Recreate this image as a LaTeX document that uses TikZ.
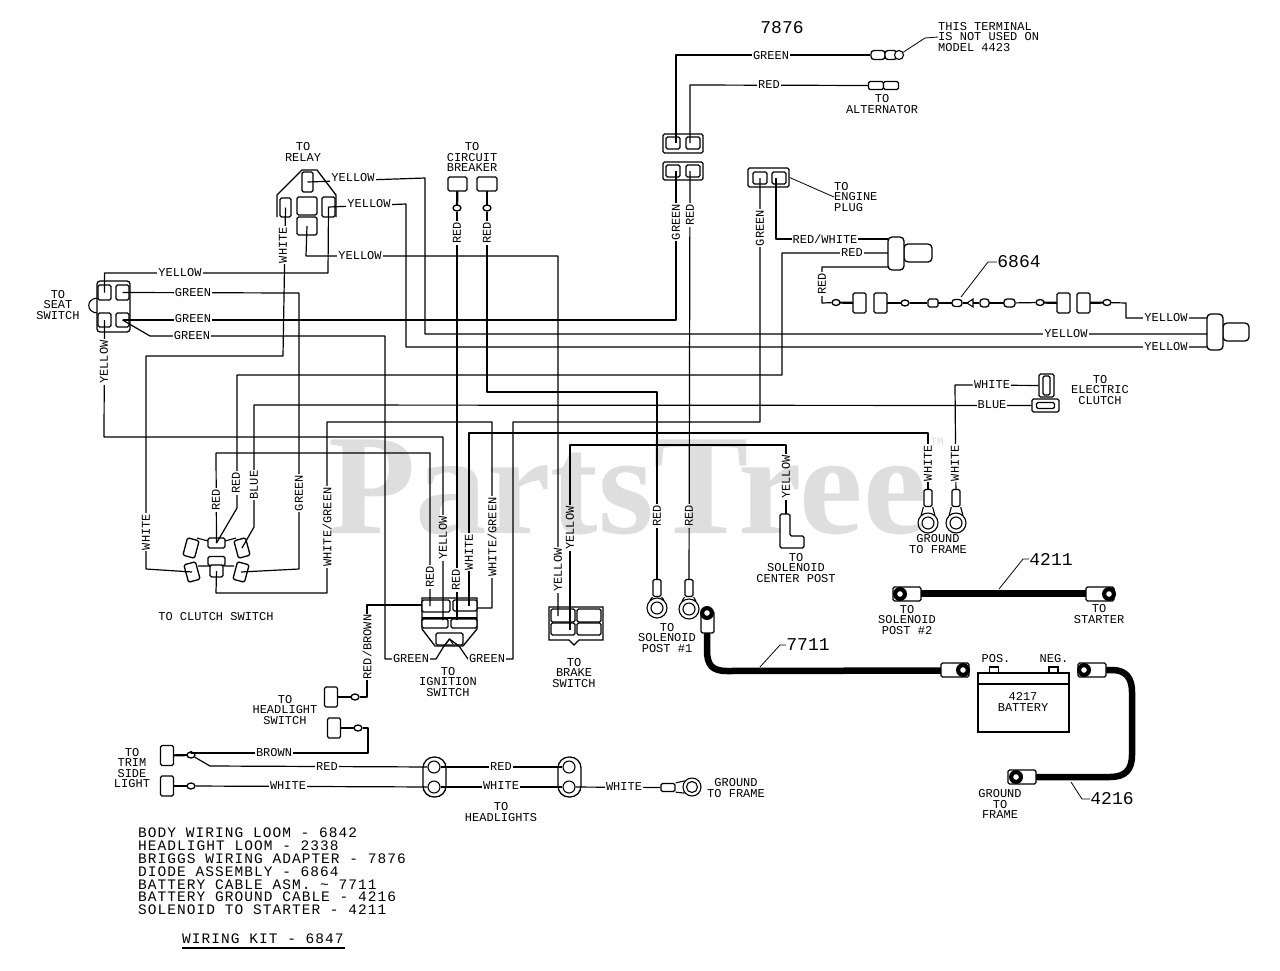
\documentclass[tikz,border=0pt]{standalone}
\usepackage{fontspec}
\setmainfont{Liberation Mono}
\newfontfamily\wmfont{Liberation Serif}
\newfontfamily\listfont[LetterSpace=7.2]{Liberation Mono}
\newcommand{\labelfont}{\fontsize{12}{10.3}\selectfont}
\tikzset{
  wire/.style={line width=1.2pt,color=black,line join=round},
  lead/.style={line width=0.8pt,color=black},
  cable/.style={line width=6.5pt,color=black,line join=round},
  stem/.style={line width=2.2pt,color=black},
  conbox/.style 2 args={draw,line width=1.3pt,fill=white,inner sep=0pt,rounded corners=1.5pt,minimum width=#1pt,minimum height=#2pt},
  knob/.style={draw,line width=1.3pt,fill=white,ellipse,inner sep=0pt,minimum width=8pt,minimum height=6pt},
  holecirc/.style={draw,line width=1.1pt,fill=white,circle,inner sep=0pt,minimum size=#1pt},
  wlab/.style={font=\labelfont,fill=white,inner sep=1pt},
  vlab/.style={font=\labelfont,fill=white,inner sep=1pt,rotate=90},
  txt/.style={font=\labelfont,align=center,inner sep=0pt},
  num/.style={font=\fontsize{18}{18}\selectfont,inner sep=0pt},
}
% blade plug: [block size], name, block x, block y, knob x, knob y
\newcommand{\bladeplug}[6][{13}{20}]{
  \draw[stem] (#3,#4) -- (#5,#6);
  \node[conbox=#1] (#2b) at (#3,#4) {};
  \node[knob] (#2k) at (#5,#6) {};
}
% ring terminal, vertical: name, x, barrel y, ring y
\newcommand{\ringterm}[4]{
  \node[conbox={8}{17}] (#1b) at (#2,#3) {};
  \node[holecirc=20] (#1r) at (#2,#4) {};
  \node[holecirc=12] (#1h) at (#2,#4) {};
  \draw[line width=1.1pt] (#1b.south west) -- (#1r.130) (#1b.south east) -- (#1r.50);
}
% battery lug: name, x, y, hole x
\newcommand{\batlug}[4]{
  \node[conbox={28}{14}] (#1) at (#2,#3) {};
  \fill[black] (#4,#3) circle (7);
  \node[holecirc=7] (#1h) at (#4,#3) {};
}
\usetikzlibrary{shapes.geometric}
\begin{document}
\begin{tikzpicture}[x=1pt,y=-1pt]
  \useasboundingbox (0,0) rectangle (1280,970);
  \fill[white] (0,0) rectangle (1280,970);

  % seat switch plug
  \draw[line width=1.1pt] (97,298) .. controls (86,299) and (86,312) .. (97,313);
  \node[conbox={33}{51},rounded corners=3pt] (seat) at (113.5,306.5) {};
  \node[conbox={13}{15}] (seatA) at (104.5,292.5) {};
  \node[conbox={13}{15}] (seatB) at (122.5,292.5) {};
  \node[conbox={13}{14}] (seatC) at (104.5,320) {};
  \node[conbox={13}{14}] (seatD) at (122.5,320) {};

  % relay plug
  \draw[line width=1.3pt] (277,217)--(277,195)--(302,170)--(317,170)--(336,195)--(336,217);
  \node[conbox={11}{20}] (relayT) at (307.5,182) {};
  \node[conbox={11}{19}] (relayL) at (285.5,207.5) {};
  \node[conbox={20}{18}] (relayM) at (307,206) {};
  \node[conbox={13}{20}] (relayR) at (328.5,207) {};
  \node[conbox={20}{18}] (relayB) at (307,226) {};

  % circuit breaker plugs
  \bladeplug[{19}{14}]{cbA}{457.5}{184}{457}{208}
  \bladeplug[{20}{14}]{cbB}{487}{184}{487}{208}

  % briggs adapter plugs
  \node[conbox={40}{19}] (brigT) at (683,143.5) {};
  \node[conbox={14}{12}] at (673,143) {};
  \node[conbox={14}{12}] at (693,143) {};
  \node[conbox={40}{18}] (brigB) at (683,171) {};
  \node[conbox={14}{12}] at (673,171) {};
  \node[conbox={14}{12}] at (693,171) {};
  \coordinate (brigTg) at (676,143);
  \coordinate (brigTr) at (690,143);
  \coordinate (brigBg) at (676,171);
  \coordinate (brigBr) at (690,171);

  % engine plug
  \node[conbox={41}{19}] (engine) at (768.5,177.5) {};
  \node[conbox={14}{12}] (engineA) at (760,178) {};
  \node[conbox={14}{12}] (engineB) at (779,178) {};
  \coordinate (engineBw) at (776,178);

  % terminals at the top
  \node[conbox={14}{9},rounded corners=3pt] (termG) at (878,55) {};
  \node[conbox={12}{9},rounded corners=3pt] (termGa) at (891,55) {};
  \node[holecirc=9,ellipse] (termGb) at (899,55) {};
  \node[conbox={15}{8}] (termR) at (876,85.5) {};
  \node[conbox={15}{8}] (termRa) at (891,85.5) {};

  % boots
  \node[conbox={28}{18},rounded corners=4pt] (bootAn) at (918,253) {};
  \node[conbox={16}{33},rounded corners=4pt] (bootA) at (896,253.5) {};
  \coordinate (bootAa) at (888,239);
  \coordinate (bootAb) at (888,253);
  \coordinate (bootAc) at (888,267);
  \node[conbox={26}{18},rounded corners=4pt] (bootBn) at (1236,332) {};
  \node[conbox={16}{36},rounded corners=4pt] (bootB) at (1215,332) {};
  \coordinate (bootBa) at (1207,318);
  \coordinate (bootBb) at (1207,334);
  \coordinate (bootBc) at (1207,347);

  % diode assembly
  \bladeplug{chA}{859.5}{303}{836}{302.5}
  \bladeplug{chB}{880.5}{303}{905}{303}
  \bladeplug{chC}{1063.5}{303}{1040}{302.5}
  \bladeplug{chD}{1083.5}{303}{1107}{302.5}
  \draw[stem] (933,303) -- (957,303);
  \draw[stem] (984,303) -- (1010,303);
  \node[conbox={10}{8}] (diodeA) at (933,303) {};
  \node[conbox={10}{7},rounded corners=3pt] (diodeB) at (957,303) {};
  \draw[line width=1.1pt,fill=white] (967,303)--(973,299)--(973,307)--cycle;
  \node[conbox={9}{8},rounded corners=3pt] (diodeC) at (984.5,303) {};
  \node[conbox={11}{8},rounded corners=3pt] (diodeD) at (1009.5,303) {};

  % electric clutch plug
  \node[conbox={15}{23}] (ecU) at (1046.5,385.5) {};
  \node[conbox={7}{19}] (ecUi) at (1046.5,385.5) {};
  \node[conbox={27}{13}] (ecL) at (1045.5,405.5) {};
  \node[conbox={18}{6}] (ecLi) at (1045.5,405.5) {};

  % ring terminals
  \ringterm{gndA}{928}{498}{523}
  \ringterm{gndB}{956}{498}{523}
  \ringterm{solA}{657}{588}{608}
  \ringterm{solB}{689}{588}{609}

  % solenoid center post
  \draw[line width=1.3pt,fill=white,rounded corners=1.5pt] (780,514)--(790,514)--(790,536)--(804,536)--(804,548)--(780,548)--cycle;
  \coordinate (postC) at (786,514);

  % brake switch plug
  \draw[line width=1.3pt,fill=white] (549,607)--(603,607)--(603,640)--(579,640)--(574,645)--(569,640)--(549,640)--cycle;
  \node[conbox={24}{13}] (brkA) at (563,615.5) {};
  \node[conbox={24}{13}] (brkB) at (589,615.5) {};
  \node[conbox={24}{12}] (brkC) at (563,629) {};
  \node[conbox={24}{12}] (brkD) at (589,629) {};
  \coordinate (brkAw) at (558,616);
  \coordinate (brkCw) at (570,630);

  % ignition plug
  \draw[line width=1.3pt,fill=white] (422,598)--(477,598)--(477,629)--(463,646)--(435,646)--(422,629)--cycle;
  \draw[line width=1.3pt] (422,618)--(477,618);
  \node[conbox={28}{12}] (ignA) at (436,606) {};
  \node[conbox={24}{11}] (ignB) at (465,605.5) {};
  \node[conbox={26}{9}] (ignC) at (435,623.5) {};
  \node[conbox={26}{9}] (ignD) at (464,623.5) {};
  \node[conbox={27}{12}] (ignK) at (449.5,639) {};
  \coordinate (ignAw) at (430,606);
  \coordinate (ignAl) at (422,605);
  \coordinate (ignCw) at (443,620);
  \coordinate (ignDw) at (456,620);
  \coordinate (ignBw) at (469,606);
  \coordinate (ignBr) at (477,608);

  % clutch switch plug
  \draw[line width=1.1pt] (197,538) -- (208,541) (225,541) -- (236,538) (198,566) -- (210,566) (224,566) -- (234,566);
  \node[conbox={17}{10}] (cluT) at (216.5,543) {};
  \node[conbox={17}{9}] (cluB) at (216.5,561) {};
  \node[conbox={13}{12}] (cluS) at (216.5,571) {};
  \node[conbox={12}{18},rotate=-15] (cluA) at (191,548) {};
  \node[conbox={12}{18},rotate=15] (cluC) at (192,572) {};
  \node[conbox={12}{18},rotate=15] (cluD) at (242,548) {};
  \node[conbox={12}{18},rotate=-15] (cluE) at (241,572) {};

  % headlight switch plugs and trim side light plugs
  \bladeplug{hlA}{331}{697}{355}{697}
  \bladeplug{hlB}{334}{728}{358}{728}
  \bladeplug{trA}{167}{755.5}{191}{755}
  \bladeplug{trB}{167}{786}{191}{786}

  % the wires
  \draw[wire] (seatA.center) |- (328,273) -- (relayR.center);
  \draw[wire] (seatB.center) -- (299,293) -- (299,569) -- (cluE.center);
  \draw[wire] (seatD.center) -- (676,320) -- (brigBg);
  \draw[wire] (seatD.center) -- (150,336) -- (385,336) -- (385,659) -- (436,659) -- (444,646) -- (ignK.center);
  \draw[wire] (seatC.center) -- (104,437) -- (443,437) -- (ignCw);
  \draw[wire] (relayL.center) -- (283,356) -- (146,356) -- (146,569) -- (cluC.center);
  \draw[wire] (relayT.center) -- (425,178) -- (425,334) -- (bootBb);
  \draw[wire] (relayR.center) -- (406,204) -- (406,347) -- (bootBc);
  \draw[wire] (relayB.center) -- (306,256) -- (558,256) -- (brkAw);
  \draw[wire] (cbAk) -- (457,620);
  \draw[wire] (cbBk) -- (487,392) -- (657,392) -- (solAb);
  \draw[wire] (brigTg) -- (676,55) -- (termG);
  \draw[wire] (brigTr) -- (690,85) -- (termR);
  \draw[wire] (brigBr) -- (solBb);
  \draw[wire] (engineA.center) -- (760,422) -- (513,422) -- (513,659) -- (468,659) -- (459,646) -- (ignK.center);
  \draw[wire] (engineBw) -- (776,239) -- (bootAa);
  \draw[wire] (bootAb) -- (782,253) -- (782,375) -- (237,375) -- (237,508) -- (cluT.center);
  \draw[wire] (bootAc) -- (822,267) -- (822,303) -- (chAk);
  \draw[wire] (chBk) -- (diodeA);
  \draw[wire] (diodeB) -- (967,303);
  \draw[wire] (973,303) -- (diodeC);
  \draw[wire] (diodeD) -- (chCk);
  \draw[wire] (chDk) -- (1126,303) -- (1126,318) -- (bootBa);
  \draw[wire] (ecU) -- (955,385) -- (gndBb);
  \draw[wire] (ecL) -- (254,405) -- (254,527) -- (cluD.center);
  \draw[wire] (gndAb) -- (928,433) -- (469,433) -- (ignBw);
  \draw[wire] (postC) -- (786,445) -- (570,445) -- (brkCw);
  \draw[wire] (cluS.center) -- (216,593) -- (327,593) -- (327,422) -- (492,422) -- (492,608) -- (ignBr);
  \draw[wire] (cluT.center) -- (216,453) -- (430,453) -- (ignAw);
  \draw[wire] (ignAl) -- (367,605) -- (367,697) -- (hlAk);
  \draw[wire] (hlBk) -- (368,728) -- (368,753) -- (191,753) -- (trAk);
  \draw[line width=1pt] (446,644) -- (449.5,639) -- (453,644);

  % headlights and their wires
  \node[conbox={23}{40},rounded corners=11pt] (headA) at (434.5,777) {};
  \node[conbox={23}{40},rounded corners=11pt] (headB) at (569.5,777) {};
  \node[holecirc=12] (headAr) at (434,767) {};
  \node[holecirc=12] (headAw) at (434,787) {};
  \node[holecirc=12] (headBr) at (569,767) {};
  \node[holecirc=12] (headBw) at (569,787) {};
  \node[conbox={14}{8}] (grdB) at (668,787.5) {};
  \node[holecirc=18] (grdR) at (692,787) {};
  \node[holecirc=11] (grdH) at (692,787) {};
  \draw[line width=1.1pt] (grdB.north east) -- (grdR.140) (grdB.south east) -- (grdR.220);
  \draw[wire] (trAk) -- (210,766) -- (headAr);
  \draw[wire] (headAr) -- (headBr);
  \draw[wire] (trBk) -- (headAw);
  \draw[wire] (headAw) -- (headBw);
  \draw[wire] (headBw) -- (grdB);

  % battery and the heavy cables
  \node[conbox={91}{11},rounded corners=0pt] (batTop) at (1023.5,678.5) {};
  \node[conbox={91}{48},rounded corners=0pt] (batBody) at (1023.5,708) {};
  \node[conbox={9}{6},rounded corners=0pt] (batPos) at (994,670) {};
  \node[conbox={9}{6},rounded corners=0pt] (batNeg) at (1053.5,670) {};
  \coordinate (lugAa) at (707,625);
  \coordinate (lugAb) at (950,670.5);
  \draw[cable] (lugAa) -- (707,650) .. controls (707,665) and (712,671) .. (727,671) -- (lugAb);
  \draw[cable] (1100,670) -- (1112,670) .. controls (1125,670) and (1132,677) .. (1132,692) -- (1132,755) .. controls (1132,770) and (1125,777) .. (1110,777) -- (1030,777);
  \draw[cable] (915,593.5) -- (1094,593.5);
  \node[conbox={13}{22},rounded corners=2pt] (lug7a) at (707.5,622) {};
  \fill[black] (707,613) circle (7);
  \node[holecirc=7] (lug7h) at (707,613) {};
  \batlug{lug7b}{955}{670}{963}
  \batlug{lug6a}{1092}{670}{1084}
  \batlug{lug6b}{1022}{777}{1016}
  \batlug{lug1a}{907}{594}{900}
  \batlug{lug1b}{1100}{594}{1109}

  % wire labels
  \node[wlab] (lYa) at (180,273) {YELLOW};
  \node[wlab] (lYb) at (353,178) {YELLOW};
  \node[wlab] (lYc) at (369,204) {YELLOW};
  \node[wlab] (lYd) at (360,256) {YELLOW};
  \node[vlab] (lYe) at (104,362) {YELLOW};
  \node[wlab] (lGa) at (193,293) {GREEN};
  \node[wlab] (lGb) at (193,319) {GREEN};
  \node[wlab] (lGc) at (192,336) {GREEN};
  \node[vlab] (lWa) at (283,245) {WHITE};
  \node[vlab] (lRa) at (457,233) {RED};
  \node[vlab] (lRb) at (487,233) {RED};
  \node[wlab] (lGd) at (771,56) {GREEN};
  \node[wlab] (lRc) at (769,85) {RED};
  \node[vlab] (lGe) at (676,222) {GREEN};
  \node[vlab] (lRd) at (690,215) {RED};
  \node[vlab] (lGf) at (760,228) {GREEN};
  \node[wlab] (lRW) at (825,239) {RED/WHITE};
  \node[wlab] (lRe) at (852,253) {RED};
  \node[vlab] (lRf) at (822,284) {RED};
  \node[wlab] (lYf) at (1166,318) {YELLOW};
  \node[wlab] (lYg) at (1066,334) {YELLOW};
  \node[wlab] (lYh) at (1166,347) {YELLOW};
  \node[wlab] (lWb) at (992,385) {WHITE};
  \node[wlab] (lBa) at (992,405) {BLUE};
  \node[vlab] (lWc) at (928,463) {WHITE};
  \node[vlab] (lWd) at (955,463) {WHITE};
  \node[vlab] (lYi) at (786,477) {YELLOW};
  \node[vlab] (lRg) at (657,516) {RED};
  \node[vlab] (lRh) at (689,516) {RED};
  \node[vlab] (lYj) at (558,570) {YELLOW};
  \node[vlab] (lYk) at (570,528) {YELLOW};
  \node[vlab] (lWe) at (146,532) {WHITE};
  \node[vlab] (lRi) at (216,500) {RED};
  \node[vlab] (lRj) at (236,483) {RED};
  \node[vlab] (lBb) at (254,485) {BLUE};
  \node[vlab] (lGg) at (299,493) {GREEN};
  \node[vlab] (lWG) at (327,527) {WHITE/GREEN};
  \node[vlab] (lRk) at (430,577) {RED};
  \node[vlab] (lYl) at (443,538) {YELLOW};
  \node[vlab] (lRm) at (456,580) {RED};
  \node[vlab] (lWf) at (469,552) {WHITE};
  \node[vlab] (lWH) at (492,537) {WHITE/GREEN};
  \node[wlab] (lGh) at (411,659) {GREEN};
  \node[wlab] (lGi) at (487,659) {GREEN};
  \node[vlab] (lRB) at (367,647) {RED/BROWN};
  \node[wlab] (lBr) at (274,753) {BROWN};
  \node[wlab] (lRn) at (327,767) {RED};
  \node[wlab] (lRo) at (501,767) {RED};
  \node[wlab] (lWg) at (288,786) {WHITE};
  \node[wlab] (lWh) at (501,786) {WHITE};
  \node[wlab] (lWi) at (624,787) {WHITE};

  % leaders and part numbers
  \node[num] (n7876) at (782,28) {7876};
  \node[num] (n6864) at (1019,262) {6864};
  \node[num] (n4211) at (1051,559) {4211};
  \node[num] (n7711) at (808,645) {7711};
  \node[num] (n4216) at (1112,799) {4216};
  \coordinate (leadA) at (961,297);
  \coordinate (leadB) at (999,589);
  \coordinate (leadC) at (760,667);
  \coordinate (leadD) at (1071,782);
  \draw[lead] (n6864.west) -- (988,262) -- (leadA);
  \draw[lead] (n4211.west) -- (1023,559) -- (leadB);
  \draw[lead] (n7711.west) -- (780,645) -- (leadC);
  \draw[lead] (n4216.west) -- (1082,799) -- (leadD);

  % texts
  \node[txt,align=left,anchor=west] (tTerm) at (938,37) {THIS TERMINAL\\IS NOT USED ON\\MODEL 4423};
  \draw[lead] (tTerm.west) -- (925,38) -- (termGb);
  \node[txt] (tAlt) at (882,104) {TO\\ALTERNATOR};
  \node[txt,align=left,anchor=west] (tEng) at (834,197) {TO\\ENGINE\\PLUG};
  \draw[lead] (engine.east) -- (tEng.west);
  \node[txt] (tRelay) at (303,152) {TO\\RELAY};
  \node[txt] (tCirc) at (472,157) {TO\\CIRCUIT\\BREAKER};
  \node[txt] (tSeat) at (58,305) {TO\\SEAT\\SWITCH};
  \node[txt] (tClu) at (216,617) {TO CLUTCH SWITCH};
  \node[txt] (tIgn) at (448,682) {TO\\IGNITION\\SWITCH};
  \node[txt] (tBrk) at (574,673) {TO\\BRAKE\\SWITCH};
  \node[txt] (tSolA) at (667,638) {TO\\SOLENOID\\POST \#1};
  \node[txt] (tSolC) at (796,568) {TO\\SOLENOID\\CENTER POST};
  \node[txt] (tGndA) at (938,544) {GROUND\\TO FRAME};
  \node[txt] (tElec) at (1100,390) {TO\\ELECTRIC\\CLUTCH};
  \node[txt] (tSolB) at (907,620) {TO\\SOLENOID\\POST \#2};
  \node[txt] (tStart) at (1099,614) {TO\\STARTER};
  \node[txt] (tPos) at (996,659) {POS.};
  \node[txt] (tNeg) at (1054,659) {NEG.};
  \node[txt] (tBat) at (1023,702) {4217\\BATTERY};
  \node[txt] (tGndB) at (1000,804) {GROUND\\TO\\FRAME};
  \node[txt] (tHl) at (285,710) {TO\\HEADLIGHT\\SWITCH};
  \node[txt] (tTrim) at (132,768) {TO\\TRIM\\SIDE\\LIGHT};
  \node[txt] (tHead) at (501,812) {TO\\HEADLIGHTS};
  \node[txt] (tGndC) at (736,788) {GROUND\\TO FRAME};
  \node[txt,align=left,anchor=west,font=\listfont\fontsize{14.5}{12.85}\selectfont] (tList) at (138,871.5) {BODY WIRING LOOM - 6842\\HEADLIGHT LOOM - 2338\\BRIGGS WIRING ADAPTER - 7876\\DIODE ASSEMBLY - 6864\\BATTERY CABLE ASM. \string~ 7711\\BATTERY GROUND CABLE - 4216\\SOLENOID TO STARTER - 4211};
  \node[txt,anchor=west,font=\listfont\fontsize{14.5}{16}\selectfont] (tKit) at (182,939) {WIRING KIT - 6847};
  \draw[line width=1.3pt] (tKit.south west)++(0,4) -- ++(163,0);

  % watermark on top, so that the white patches under the labels go grey too
  \begin{scope}[blend mode=multiply]
    \node[inner sep=0pt,anchor=base west,text=black!13,font=\wmfont\bfseries\fontsize{143}{143}\selectfont] (mark) at (328,533) {PartsTree};
    \node[inner sep=0pt,text=black!13,font=\fontsize{11}{11}\selectfont] (markTM) at (937,442) {TM};
  \end{scope}
\end{tikzpicture}
\end{document}
